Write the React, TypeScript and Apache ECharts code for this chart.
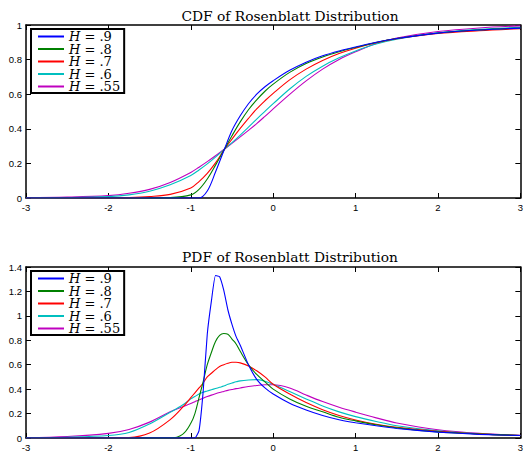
import React, { useEffect, useRef } from 'react';
import * as echarts from 'echarts';

const hLabels = ['H = .9', 'H = .8', 'H = .7', 'H = .6', 'H = .55'];
const lineColors = ['#0000ff', '#008000', '#ff0000', '#00bfbf', '#bf00bf'];
const titles = ['CDF of Rosenblatt Distribution', 'PDF of Rosenblatt Distribution'];

const cdfX = [-3, -2.5, -2, -1.75, -1.5, -1.25, -1, -0.9, -0.8, -0.7, -0.6, -0.5, -0.4, -0.3, -0.2, -0.1, 0, 0.2, 0.4, 0.6, 0.8, 1, 1.25, 1.5, 2, 2.5, 3];
const cdfH90 = [0, 0, 0, 0, 0, 0, 0, 0, 0.04, 0.15, 0.272, 0.39, 0.475, 0.545, 0.6, 0.643, 0.678, 0.738, 0.785, 0.822, 0.85, 0.873, 0.9, 0.922, 0.953, 0.971, 0.982];
const cdfH80 = [0, 0, 0, 0, 0, 0.002, 0.018, 0.05, 0.11, 0.19, 0.275, 0.36, 0.44, 0.51, 0.567, 0.617, 0.658, 0.726, 0.777, 0.815, 0.845, 0.87, 0.899, 0.922, 0.954, 0.972, 0.983];
const cdfH70 = [0, 0, 0, 0.002, 0.008, 0.021, 0.058, 0.095, 0.142, 0.203, 0.275, 0.34, 0.402, 0.46, 0.515, 0.562, 0.605, 0.683, 0.745, 0.795, 0.835, 0.866, 0.898, 0.921, 0.951, 0.967, 0.978];
const cdfH60 = [0, 0.002, 0.008, 0.018, 0.039, 0.076, 0.13, 0.162, 0.197, 0.236, 0.278, 0.32, 0.364, 0.41, 0.456, 0.501, 0.545, 0.63, 0.703, 0.762, 0.81, 0.85, 0.89, 0.918, 0.955, 0.975, 0.987];
const cdfH55 = [0.001, 0.005, 0.014, 0.027, 0.05, 0.09, 0.148, 0.178, 0.21, 0.244, 0.28, 0.316, 0.353, 0.391, 0.43, 0.472, 0.515, 0.599, 0.677, 0.745, 0.801, 0.845, 0.893, 0.925, 0.962, 0.983, 0.995];

const pdfX = [-3, -2.5, -2, -1.75, -1.5, -1.25, -1.1, -1, -0.95, -0.9, -0.85, -0.8, -0.75, -0.7, -0.65, -0.6, -0.55, -0.5, -0.45, -0.4, -0.3, -0.2, -0.1, 0, 0.2, 0.4, 0.6, 0.8, 1, 1.25, 1.5, 2, 2.5, 3];
const pdfH90 = [0, 0, 0, 0, 0, 0, 0, 0, 0, 0.06, 0.38, 0.85, 1.12, 1.33, 1.32, 1.21, 1.05, 0.93, 0.83, 0.76, 0.6, 0.48, 0.41, 0.36, 0.285, 0.23, 0.185, 0.15, 0.125, 0.1, 0.078, 0.048, 0.03, 0.02];
const pdfH80 = [0, 0, 0, 0, 0, 0, 0.03, 0.12, 0.2, 0.33, 0.46, 0.6, 0.7, 0.79, 0.84, 0.855, 0.85, 0.81, 0.77, 0.71, 0.6, 0.52, 0.46, 0.4, 0.32, 0.26, 0.215, 0.17, 0.14, 0.108, 0.083, 0.05, 0.033, 0.02];
const pdfH70 = [0, 0, 0.002, 0.004, 0.04, 0.15, 0.25, 0.33, 0.37, 0.41, 0.45, 0.5, 0.53, 0.56, 0.585, 0.6, 0.612, 0.62, 0.62, 0.615, 0.59, 0.55, 0.5, 0.44, 0.36, 0.29, 0.232, 0.185, 0.148, 0.113, 0.088, 0.055, 0.034, 0.02];
const pdfH60 = [0.001, 0.006, 0.02, 0.045, 0.115, 0.21, 0.27, 0.32, 0.34, 0.36, 0.375, 0.385, 0.395, 0.405, 0.415, 0.425, 0.44, 0.45, 0.46, 0.468, 0.475, 0.478, 0.465, 0.44, 0.38, 0.32, 0.262, 0.214, 0.175, 0.135, 0.1, 0.058, 0.034, 0.02];
const pdfH55 = [0.003, 0.012, 0.038, 0.07, 0.13, 0.215, 0.255, 0.282, 0.297, 0.312, 0.326, 0.339, 0.351, 0.362, 0.372, 0.381, 0.39, 0.397, 0.404, 0.41, 0.421, 0.43, 0.436, 0.436, 0.41, 0.352, 0.298, 0.252, 0.212, 0.165, 0.123, 0.068, 0.038, 0.022];

const cdfSeries = [cdfH90, cdfH80, cdfH70, cdfH60, cdfH55];
const pdfSeries = [pdfH90, pdfH80, pdfH70, pdfH60, pdfH55];

const SERIF = '"DejaVu Serif", "Liberation Serif", serif';
const SANS = '"Liberation Sans", Arial, sans-serif';

function makeAxis(gridIndex: number, position: string, showLabel: boolean, min: number, max: number, interval: number) {
  return {
    type: 'value',
    gridIndex,
    position,
    min,
    max,
    interval,
    axisLine: { show: true, onZero: false, lineStyle: { color: '#000', width: 1.5 } },
    axisTick: { show: true, inside: true, length: 5, lineStyle: { color: '#000', width: 1 } },
    axisLabel: { show: showLabel, color: '#000', fontFamily: SANS, fontSize: 9.5, margin: 4 },
    splitLine: { show: false },
  };
}

function makeLegend(top: number) {
  return {
    orient: 'vertical',
    left: 31,
    top,
    data: hLabels,
    itemWidth: 26,
    itemHeight: 10,
    itemGap: -0.5,
    padding: [1, 4, 0, 6],
    borderColor: '#000',
    borderWidth: 2,
    backgroundColor: '#fff',
    selectedMode: false,
    itemStyle: { opacity: 0, borderWidth: 0 },
    textStyle: {
      fontFamily: SERIF,
      fontSize: 13,
      color: '#000',
      lineHeight: 12,
      rich: {
        h: { fontFamily: SERIF, fontSize: 13, fontStyle: 'italic', color: '#000', lineHeight: 12 },
        t: { fontFamily: SERIF, fontSize: 13, color: '#000', lineHeight: 12 },
      },
    },
    formatter: (name: string) => `{h|H}{t|${name.slice(1)}}`,
  };
}

export default function App() {
  const ref = useRef<HTMLDivElement>(null);
  useEffect(() => {
    if (!ref.current) return;
    const chart = echarts.init(ref.current, null, { renderer: 'svg' });
    const series: any[] = [];
    hLabels.forEach((name, i) => {
      series.push({
        type: 'line',
        name,
        xAxisIndex: 0,
        yAxisIndex: 0,
        data: cdfX.map((x, j) => [x, cdfSeries[i][j]]),
        symbol: 'none',
        smooth: 0.35,
        lineStyle: { color: lineColors[i], width: 1.1 },
        itemStyle: { color: lineColors[i] },
        z: 10 - i,
      });
    });
    hLabels.forEach((name, i) => {
      series.push({
        type: 'line',
        name,
        xAxisIndex: 2,
        yAxisIndex: 2,
        data: pdfX.map((x, j) => [x, pdfSeries[i][j]]),
        symbol: 'none',
        smooth: i === 0 ? 0.15 : 0.35,
        lineStyle: { color: lineColors[i], width: 1.1 },
        itemStyle: { color: lineColors[i] },
        z: 10 - i,
      });
    });
    const titleStyle = { fontFamily: SERIF, fontSize: 13.8, fontWeight: 'normal', color: '#000' };
    chart.setOption({
      animation: false,
      backgroundColor: '#fff',
      title: [
        { text: titles[0], left: 285, top: 3.5, textAlign: 'center', textStyle: titleStyle },
        { text: titles[1], left: 285, top: 244.5, textAlign: 'center', textStyle: titleStyle },
      ],
      grid: [
        { left: 26, right: 1, top: 25, height: 173, containLabel: false },
        { left: 26, right: 1, top: 267, height: 172, containLabel: false },
      ],
      xAxis: [
        makeAxis(0, 'bottom', true, -3, 3, 1),
        makeAxis(0, 'top', false, -3, 3, 1),
        makeAxis(1, 'bottom', true, -3, 3, 1),
        makeAxis(1, 'top', false, -3, 3, 1),
      ],
      yAxis: [
        makeAxis(0, 'left', true, 0, 1, 0.2),
        makeAxis(0, 'right', false, 0, 1, 0.2),
        makeAxis(1, 'left', true, 0, 1.4, 0.2),
        makeAxis(1, 'right', false, 0, 1.4, 0.2),
      ],
      legend: [makeLegend(29), makeLegend(271)],
      series,
    });
    return () => chart.dispose();
  }, []);
  return <div ref={ref} style={{ position: 'fixed', left: 0, top: 0, width: 526, height: 452 }} />;
}
